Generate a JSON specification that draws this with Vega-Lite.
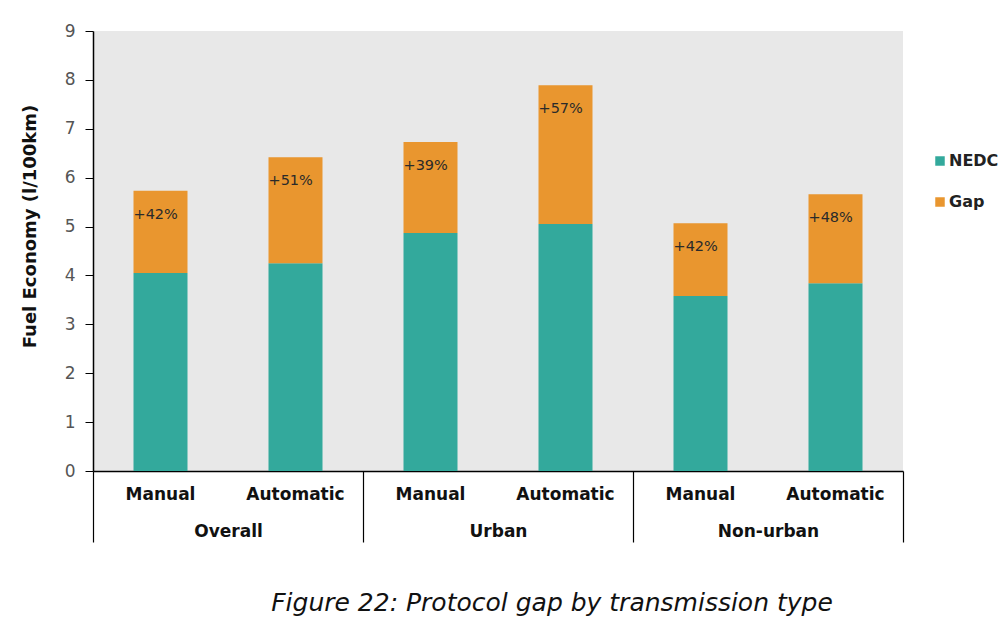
{
  "$schema": "https://vega.github.io/schema/vega-lite/v6.json",
  "width": 810,
  "height": 440,
  "autosize": "none",
  "padding": {"left": 93, "top": 31, "right": 104, "bottom": 151},
  "background": "white",
  "config": {
    "font": "DejaVu Sans",
    "view": {"fill": "#e8e8e8", "stroke": null}
  },
  "title": {
    "text": "Figure 22: Protocol gap by transmission type",
    "orient": "bottom",
    "anchor": "middle",
    "dx": 54,
    "offset": 48,
    "font": "DejaVu Sans",
    "fontStyle": "italic",
    "fontWeight": "normal",
    "fontSize": 25,
    "color": "#111111"
  },
  "data": {
    "values": [
      {"group": "Overall", "trans": "Manual", "NEDC": 4.05, "Gap": 1.68, "label": "+42%"},
      {"group": "Overall", "trans": "Automatic", "NEDC": 4.25, "Gap": 2.17, "label": "+51%"},
      {"group": "Urban", "trans": "Manual", "NEDC": 4.87, "Gap": 1.86, "label": "+39%"},
      {"group": "Urban", "trans": "Automatic", "NEDC": 5.05, "Gap": 2.84, "label": "+57%"},
      {"group": "Non-urban", "trans": "Manual", "NEDC": 3.58, "Gap": 1.49, "label": "+42%"},
      {"group": "Non-urban", "trans": "Automatic", "NEDC": 3.84, "Gap": 1.82, "label": "+48%"}
    ]
  },
  "encoding": {
    "x": {
      "field": "group",
      "type": "nominal",
      "sort": ["Overall", "Urban", "Non-urban"],
      "scale": {"paddingInner": 0, "paddingOuter": 0},
      "axis": {
        "title": null,
        "domain": true,
        "domainColor": "#000000",
        "domainWidth": 1.5,
        "ticks": true,
        "tickBand": "extent",
        "tickSize": 71,
        "tickColor": "#000000",
        "tickWidth": 1.2,
        "labelAngle": 0,
        "labelFont": "DejaVu Sans",
        "labelFontWeight": "bold",
        "labelFontSize": 17,
        "labelColor": "#111111",
        "labelPadding": -19
      }
    },
    "xOffset": {
      "field": "trans",
      "type": "nominal",
      "sort": ["Manual", "Automatic"],
      "scale": {"paddingInner": 0.6, "paddingOuter": 0.3}
    }
  },
  "layer": [
    {
      "transform": [{"fold": ["NEDC", "Gap"], "as": ["series", "value"]}],
      "mark": {"type": "bar"},
      "encoding": {
        "y": {
          "field": "value",
          "type": "quantitative",
          "stack": "zero",
          "scale": {"domain": [0, 9], "nice": false, "zero": true},
          "axis": {
            "title": "Fuel Economy (l/100km)",
            "titleFont": "DejaVu Sans",
            "titleFontWeight": "bold",
            "titleFontSize": 18,
            "titleColor": "#111111",
            "titlePadding": 25,
            "titleY": 195,
            "values": [0, 1, 2, 3, 4, 5, 6, 7, 8, 9],
            "grid": false,
            "domain": true,
            "domainColor": "#000000",
            "domainWidth": 1.5,
            "ticks": true,
            "tickSize": 8,
            "tickColor": "#000000",
            "labelFont": "DejaVu Sans",
            "labelFontSize": 17,
            "labelColor": "#555555",
            "labelPadding": 10
          }
        },
        "color": {
          "field": "series",
          "type": "nominal",
          "scale": {"domain": ["NEDC", "Gap"], "range": ["#33a99c", "#e9962f"]},
          "legend": {
            "title": null,
            "orient": "none",
            "legendX": 839,
            "legendY": 122,
            "padding": 0,
            "symbolType": "square",
            "symbolSize": 90,
            "symbolStrokeWidth": 0,
            "rowPadding": 25,
            "labelOffset": 1,
            "labelFont": "DejaVu Sans",
            "labelFontWeight": "bold",
            "labelFontSize": 16,
            "labelColor": "#222222"
          }
        },
        "order": {"field": "series", "sort": "descending"}
      }
    },
    {
      "transform": [{"fold": ["NEDC", "Gap"], "as": ["series", "value"]}],
      "mark": {
        "type": "text",
        "align": "left",
        "baseline": "middle",
        "dx": -27,
        "dy": 24,
        "font": "DejaVu Sans",
        "fontSize": 14.5,
        "color": "#2a2a2a"
      },
      "encoding": {
        "y": {"aggregate": "sum", "field": "value", "type": "quantitative"},
        "text": {"field": "label", "type": "nominal"}
      }
    },
    {
      "mark": {
        "type": "text",
        "align": "center",
        "baseline": "middle",
        "dy": 24,
        "font": "DejaVu Sans",
        "fontWeight": "bold",
        "fontSize": 17,
        "color": "#111111"
      },
      "encoding": {
        "y": {"datum": 0, "type": "quantitative"},
        "text": {"field": "trans", "type": "nominal"}
      }
    }
  ]
}
